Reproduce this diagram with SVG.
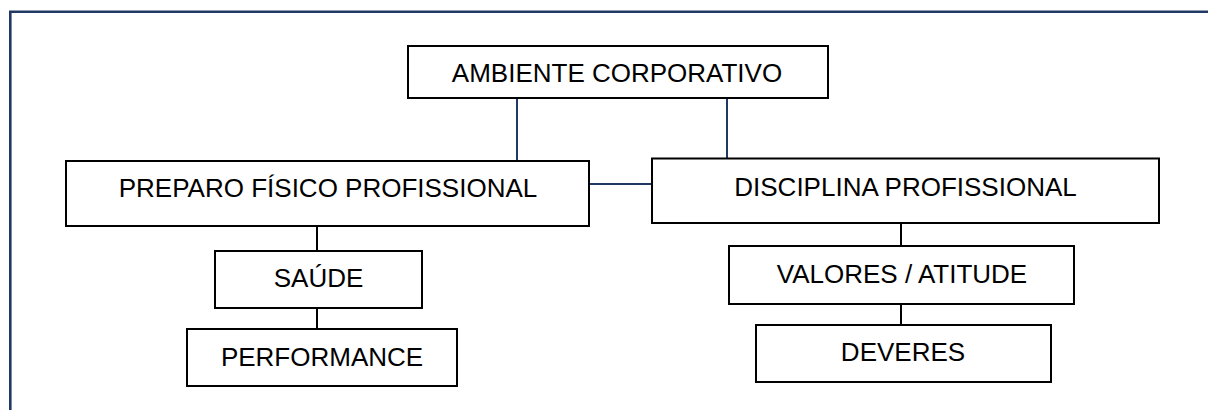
<svg xmlns="http://www.w3.org/2000/svg" width="1208" height="410" viewBox="0 0 1208 410">
<style>
.box{fill:#fff;stroke:#000;stroke-width:2}
.lbl{font-family:"Liberation Sans",Arial,sans-serif;font-size:26px;fill:#000;text-anchor:middle}
.blue{stroke:#1f3864;stroke-width:2;fill:none}
.black{stroke:#000;stroke-width:2;fill:none}
.frame{stroke:#1f3864;stroke-width:2.6;fill:none}
</style>
<rect width="1208" height="410" fill="#fff"/>
<path class="frame" d="M10.3,410 V11.7 H1208"/>
<g id="connectors">
<line class="blue" x1="517" y1="98" x2="517" y2="161"/>
<line class="blue" x1="727" y1="98" x2="727" y2="158.5"/>
<line class="blue" x1="589" y1="184" x2="652" y2="184"/>
<line class="black" x1="317" y1="226" x2="317" y2="251"/>
<line class="black" x1="317" y1="308" x2="317" y2="329"/>
<line class="black" x1="901" y1="220" x2="901" y2="246"/>
<line class="black" x1="901" y1="304" x2="901" y2="325"/>
</g>
<g id="n-ambiente">
<rect class="box" x="408" y="46" width="420" height="52"/>
<text class="lbl" x="617" y="82">AMBIENTE CORPORATIVO</text>
</g>
<g id="n-preparo">
<rect class="box" x="66" y="161" width="523" height="65"/>
<text class="lbl" x="328" y="197">PREPARO FÍSICO PROFISSIONAL</text>
</g>
<g id="n-disciplina">
<rect class="box" x="652" y="158.5" width="507" height="64.5"/>
<text class="lbl" x="905.5" y="196">DISCIPLINA PROFISSIONAL</text>
</g>
<g id="n-saude">
<rect class="box" x="215" y="251" width="207" height="57"/>
<text class="lbl" x="318.5" y="287">SAÚDE</text>
</g>
<g id="n-performance">
<rect class="box" x="187" y="329" width="270" height="57"/>
<text class="lbl" x="322" y="366">PERFORMANCE</text>
</g>
<g id="n-valores">
<rect class="box" x="729" y="246" width="345" height="58"/>
<text class="lbl" x="902" y="283">VALORES / ATITUDE</text>
</g>
<g id="n-deveres">
<rect class="box" x="756" y="325" width="295" height="57"/>
<text class="lbl" x="903" y="361">DEVERES</text>
</g>
</svg>
